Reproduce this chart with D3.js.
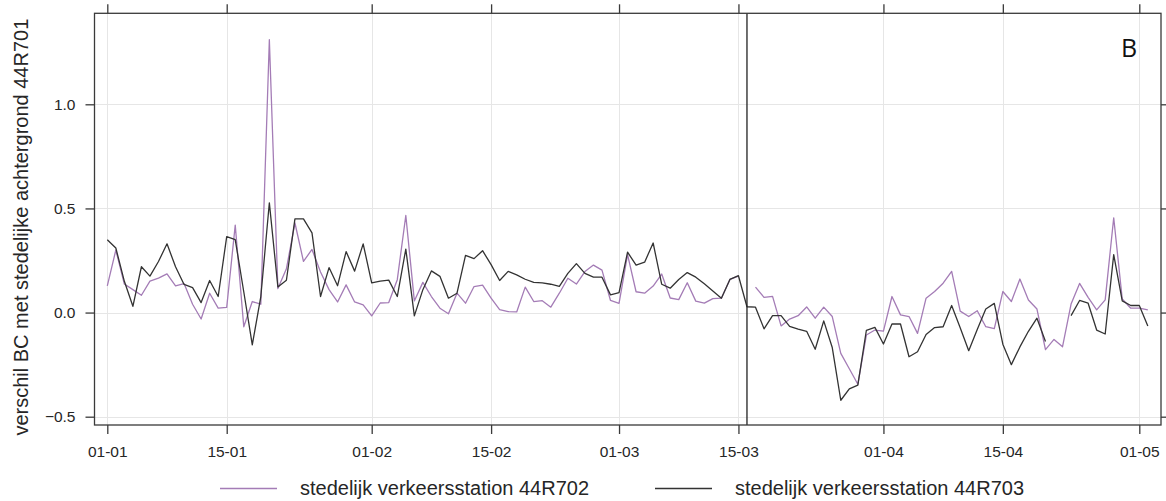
<!DOCTYPE html>
<html>
<head>
<meta charset="utf-8">
<script src="https://cdn.jsdelivr.net/npm/d3@7"></script>
<style>
  html, body { margin: 0; padding: 0; background: #ffffff; }
  svg { display: block; }
</style>
</head>
<body>
<svg id="chart" width="1166" height="501"></svg>
<script>
// ---------------- data ----------------
const startDate = "2016-01-01";           // first daily value
const breakDate = "2016-03-16";           // vertical separator line
const tickDates = ["2016-01-01","2016-01-15","2016-02-01","2016-02-15","2016-03-01","2016-03-15","2016-04-01","2016-04-15","2016-05-01"];
const yTicks = [-0.5, 0.0, 0.5, 1.0];
const seriesNames = ["stedelijk verkeersstation 44R702", "stedelijk verkeersstation 44R703"];
const yLabel = "verschil BC met stedelijke achtergrond 44R701";
const panelLabel = "B";

// 44R702 (purple), daily values from 01-01
const values702 = [
  0.128, 0.30, 0.137, 0.11, 0.083, 0.151, 0.165, 0.186, 0.128, 0.139,
  0.04, -0.031, 0.093, 0.021, 0.025, 0.42, -0.068, 0.053, 0.04, 1.31,
  0.115, 0.21, 0.43, 0.246, 0.303, 0.195, 0.11, 0.051, 0.133, 0.051,
  0.037, -0.016, 0.046, 0.048, 0.158, 0.466, 0.056, 0.145, 0.077, 0.021,
  -0.006, 0.093, 0.045, 0.125, 0.132, 0.069, 0.014, 0.005, 0.003, 0.122,
  0.053, 0.057, 0.026, 0.093, 0.165, 0.137, 0.197, 0.228, 0.204, 0.058,
  0.044, 0.278, 0.10, 0.093, 0.127, 0.185, 0.07, 0.062, 0.143, 0.055,
  0.045, 0.067, 0.069, 0.159, 0.175, null, 0.122, 0.073, 0.078, -0.064,
  -0.031, -0.015, 0.027, -0.027, 0.026, -0.019, -0.196, -0.27, -0.344, -0.108,
  -0.084, -0.089, 0.077, -0.011, -0.019, -0.10, 0.069, 0.101, 0.141, 0.198,
  0.007, -0.019, 0.009, -0.068, -0.077, 0.101, 0.053, 0.161, 0.06, 0.017,
  -0.178, -0.129, -0.164, 0.041, 0.14, 0.073, 0.013, 0.061, 0.455, 0.065,
  0.021, 0.021, 0.013
];

// 44R703 (black), daily values from 01-01
const values703 = [
  0.35, 0.31, 0.15, 0.03, 0.22, 0.175, 0.245, 0.33, 0.22, 0.135,
  0.12, 0.048, 0.154, 0.077, 0.365, 0.35, 0.10, -0.155, 0.077, 0.527,
  0.123, 0.155, 0.45, 0.45, 0.383, 0.077, 0.216, 0.129, 0.293, 0.199,
  0.33, 0.143, 0.151, 0.156, 0.077, 0.305, -0.016, 0.11, 0.20, 0.174,
  0.069, 0.093, 0.275, 0.259, 0.297, 0.23, 0.154, 0.198, 0.181, 0.16,
  0.145, 0.143, 0.136, 0.126, 0.188, 0.235, 0.188, 0.17, 0.17, 0.085,
  0.096, 0.29, 0.228, 0.242, 0.334, 0.136, 0.117, 0.159, 0.192, 0.17,
  0.138, 0.104, 0.069, 0.159, 0.177, 0.028, 0.026, -0.078, -0.015, -0.015,
  -0.066, -0.08, -0.09, -0.176, -0.04, -0.168, -0.421, -0.366, -0.348, -0.085,
  -0.071, -0.151, -0.055, -0.055, -0.212, -0.188, -0.105, -0.072, -0.068, 0.034,
  -0.073, -0.183, -0.081, 0.017, 0.044, -0.152, -0.25, -0.165, -0.09, -0.027,
  -0.139, null, null, -0.015, 0.058, 0.045, -0.084, -0.103, 0.278, 0.056,
  0.034, 0.034, -0.065
];

const colors = ["#a47cb6", "#333333"];

// ---------------- layout ----------------
const svg = d3.select("#chart");
const box = { left: 94.5, right: 1161, top: 13.3, bottom: 425 };
const parse = d3.utcParse("%Y-%m-%d");
const fmt = d3.utcFormat("%d-%m");
const start = parse(startDate);

const x = d3.scaleUtc()
  .domain([parse(tickDates[0]), parse(tickDates[tickDates.length - 1])])
  .range([107.3, 1139.3]);
const y = d3.scaleLinear().domain([-0.5, 1.0]).range([416.7, 104.3]);

const mk = vals => vals.map((v, i) => ({ date: d3.utcDay.offset(start, i), v }));
const series = [mk(values702), mk(values703)];
const ticksX = tickDates.map(parse);

// gridlines
const grid = svg.append("g").attr("stroke", "#e6e6e6").attr("stroke-width", 1);
grid.selectAll("line.gx").data(ticksX).join("line")
  .attr("x1", d => Math.round(x(d)) + 0.5).attr("x2", d => Math.round(x(d)) + 0.5)
  .attr("y1", box.top).attr("y2", box.bottom);
grid.selectAll("line.gy").data(yTicks).join("line")
  .attr("y1", d => Math.round(y(d)) + 0.5).attr("y2", d => Math.round(y(d)) + 0.5)
  .attr("x1", box.left).attr("x2", box.right);

// clip
svg.append("clipPath").attr("id", "clip").append("rect")
  .attr("x", box.left).attr("y", box.top)
  .attr("width", box.right - box.left).attr("height", box.bottom - box.top);

// series lines
const line = d3.line()
  .defined(d => d.v !== null)
  .x(d => x(d.date)).y(d => y(d.v));
svg.append("g").attr("clip-path", "url(#clip)")
  .selectAll("path").data(series).join("path")
  .attr("fill", "none")
  .attr("stroke", (d, i) => colors[i])
  .attr("stroke-width", 1.3)
  .attr("stroke-linejoin", "round")
  .attr("d", line);

// vertical separator
svg.append("line")
  .attr("x1", x(parse(breakDate))).attr("x2", x(parse(breakDate)))
  .attr("y1", box.top).attr("y2", box.bottom)
  .attr("stroke", "#222").attr("stroke-width", 1.3);

// frame
svg.append("rect")
  .attr("x", box.left).attr("y", box.top)
  .attr("width", box.right - box.left).attr("height", box.bottom - box.top)
  .attr("fill", "none").attr("stroke", "#3a3a3a").attr("stroke-width", 1.3);

// axes
function styleAxis(g) {
  g.select(".domain").remove();
  g.selectAll(".tick line").attr("stroke", "#3a3a3a").attr("stroke-width", 1.3);
  g.selectAll(".tick text").attr("fill", "#262626")
    .style("font-family", "'Liberation Sans', Arial, sans-serif").style("font-size", "15.5px");
}
svg.append("g").attr("transform", `translate(0,${box.bottom})`)
  .call(d3.axisBottom(x).tickValues(ticksX).tickFormat(fmt).tickSize(9).tickSizeOuter(0).tickPadding(12))
  .call(styleAxis);
svg.append("g").attr("transform", `translate(0,${box.top})`)
  .call(d3.axisTop(x).tickValues(ticksX).tickFormat("").tickSize(9).tickSizeOuter(0))
  .call(styleAxis);
svg.append("g").attr("transform", `translate(${box.left},0)`)
  .call(d3.axisLeft(y).tickValues(yTicks).tickFormat(d3.format(".1f")).tickSize(9).tickSizeOuter(0).tickPadding(10))
  .call(styleAxis);
svg.append("g").attr("transform", `translate(${box.right},0)`)
  .call(d3.axisRight(y).tickValues(yTicks).tickFormat("").tickSize(9).tickSizeOuter(0))
  .call(styleAxis);

// y label
svg.append("text")
  .attr("transform", `translate(28,${(box.top + box.bottom) / 2 + 8}) rotate(-90)`)
  .attr("text-anchor", "middle")
  .attr("fill", "#262626")
  .style("font-family", "'Liberation Sans', Arial, sans-serif").style("font-size", "20px")
  .text(yLabel);

// panel label
svg.append("text")
  .attr("x", 1121).attr("y", 56.5)
  .attr("fill", "#111")
  .style("font-family", "'Open Sans', sans-serif").style("font-size", "25px")
  .text(panelLabel);

// legend
const legendX = [220, 655];
const leg = svg.append("g");
seriesNames.forEach((name, i) => {
  leg.append("line")
    .attr("x1", legendX[i]).attr("x2", legendX[i] + 57)
    .attr("y1", 488.5).attr("y2", 488.5)
    .attr("stroke", colors[i]).attr("stroke-width", 1.3);
  leg.append("text")
    .attr("x", legendX[i] + 80).attr("y", 495)
    .attr("fill", "#262626")
    .style("font-family", "'Liberation Sans', Arial, sans-serif").style("font-size", "20px")
    .text(name);
});
</script>
</body>
</html>
